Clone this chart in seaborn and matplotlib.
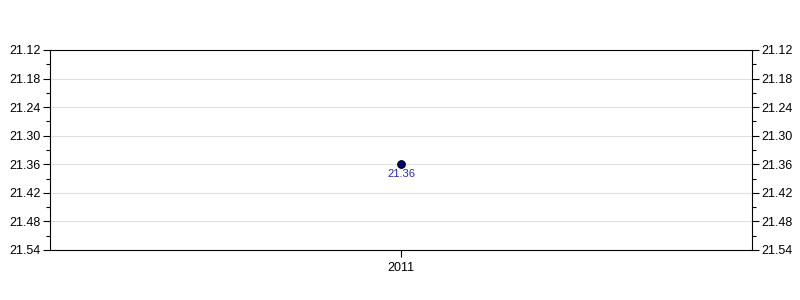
import matplotlib
matplotlib.use("Agg")
import matplotlib.pyplot as plt
import seaborn as sns
import pandas as pd
from matplotlib.ticker import MultipleLocator, FormatStrFormatter

years = ["2011"]
values = [21.36]
labels = ["21.36"]

sns.set_style("white")
plt.rcParams['font.family'] = ['Liberation Sans', 'DejaVu Sans']

df = pd.DataFrame({"year": years, "value": values})

fig = plt.figure(figsize=(8, 3), dpi=100)
ax = fig.add_axes([0.0625, 0.1667, 0.8775, 0.6667])

sns.scatterplot(data=df, x="year", y="value", ax=ax, color="#000080",
                edgecolor="black", linewidth=0.8, s=30, zorder=3, legend=False)

for i, (v, t) in enumerate(zip(values, labels)):
    ax.annotate(t, (i, v), xytext=(0, -3.5), textcoords="offset points",
                ha="center", va="top", fontsize=8, color="#2a2aa0")

ax.set_xlim(-0.5, 0.5)
ax.set_ylim(21.54, 21.12)
ax.yaxis.set_major_locator(MultipleLocator(0.06))
ax.yaxis.set_minor_locator(MultipleLocator(0.03))
ax.yaxis.set_major_formatter(FormatStrFormatter("%.2f"))
ax.grid(axis="y", which="major", color="#e0e0e0", linewidth=0.8)
ax.set_axisbelow(True)

for s in ax.spines.values():
    s.set_color("black")
    s.set_linewidth(0.8)

ax.tick_params(axis="y", which="both", left=True, right=True, labelleft=True,
               labelright=True, direction="out", colors="black", labelsize=9)
ax.tick_params(axis="y", which="major", length=5, width=0.8, pad=2)
ax.tick_params(axis="y", which="minor", length=3, width=0.8)
ax.tick_params(axis="x", bottom=True, length=5, width=0.8, labelsize=9, colors="black")
ax.set_xlabel("")
ax.set_ylabel("")

fig.savefig("out.png", dpi=100)
